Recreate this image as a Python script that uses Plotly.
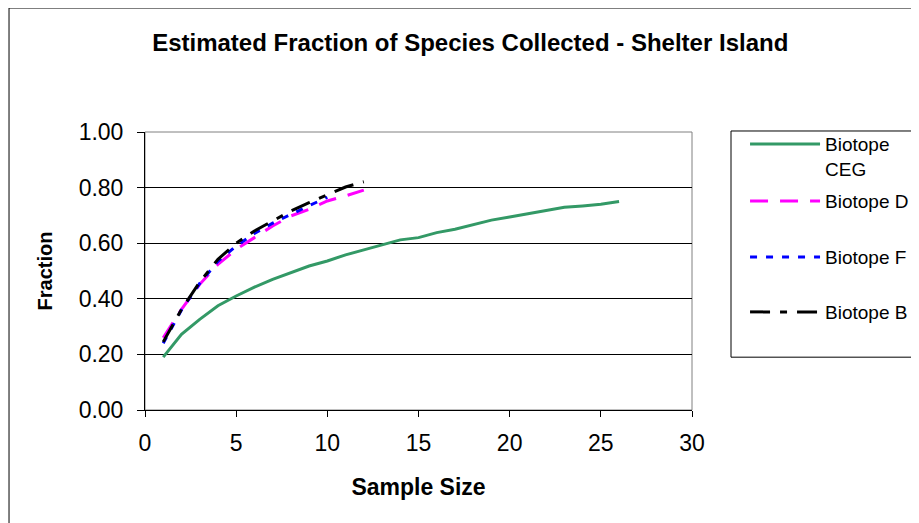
import plotly.graph_objects as go

# sample sizes
x_ceg = list(range(1, 27))
x_d = list(range(1, 13))
x_f = list(range(1, 11))
x_b = list(range(1, 13))

# estimated fraction of species collected
frac_ceg = [0.19, 0.272, 0.326, 0.375, 0.41, 0.442, 0.47, 0.493, 0.518, 0.536,
            0.558, 0.576, 0.594, 0.612, 0.620, 0.638, 0.650, 0.667, 0.683, 0.694,
            0.705, 0.718, 0.729, 0.734, 0.740, 0.750]
frac_d = [0.26, 0.362, 0.452, 0.524, 0.578, 0.62, 0.662, 0.698, 0.722, 0.752, 0.77, 0.791]
frac_f = [0.24, 0.36, 0.455, 0.535, 0.59, 0.635, 0.672, 0.705, 0.735, 0.765]
frac_b = [0.245, 0.362, 0.46, 0.542, 0.60, 0.644, 0.68, 0.716, 0.746, 0.773, 0.802, 0.821]

fig = go.Figure()
fig.add_trace(go.Scatter(x=x_ceg, y=frac_ceg, mode='lines', name='Biotope<br>CEG',
                         line=dict(color='#339966', width=3), legend='legend', showlegend=True))
fig.add_trace(go.Scatter(x=x_d, y=frac_d, mode='lines', name='Biotope D',
                         line=dict(color='#FF00FF', width=3, dash='18px,12px'), legend='legend2'))
fig.add_trace(go.Scatter(x=x_f, y=frac_f, mode='lines', name='Biotope F',
                         line=dict(color='#0000FF', width=3, dash='7px,9px'), legend='legend3'))
fig.add_trace(go.Scatter(x=x_b, y=frac_b, mode='lines', name='Biotope B',
                         line=dict(color='black', width=3, dash='20px,10px,7px,10px'), legend='legend4'))

leg = dict(xref='container', yref='container', x=0.802, xanchor='left', yanchor='top',
           font=dict(size=19), valign='top', bgcolor='rgba(0,0,0,0)', borderwidth=0, itemwidth=70)

fig.update_layout(
    width=919, height=523, showlegend=True,
    paper_bgcolor='white', plot_bgcolor='white',
    margin=dict(l=137, r=235, t=124, b=121),
    font=dict(family='Liberation Sans, Arial', size=23, color='black'),
    title=dict(text='<b>Estimated Fraction of Species Collected - Shelter Island</b>',
               xref='container', x=0.503, xanchor='center',
               yref='container', y=1 - 35 / 523, yanchor='middle',
               font=dict(size=24)),
    xaxis=dict(range=[0, 30], dtick=5, showgrid=False, zeroline=False,
               showline=True, linecolor='black', linewidth=1,
               ticks='outside', ticklen=6, tickcolor='black', ticklabelstandoff=6,
               title=dict(text='<b>Sample Size</b>', standoff=24, font=dict(size=23))),
    yaxis=dict(range=[0, 1], dtick=0.2, tickformat='.2f', showgrid=True,
               gridcolor='black', gridwidth=1, zeroline=False,
               showline=True, linecolor='black', linewidth=1,
               ticks='outside', ticklen=7, tickcolor='black', ticklabelstandoff=9,
               title=dict(text='<b>Fraction</b>', standoff=20, font=dict(size=20))),
    legend=dict(leg, y=0.776),
    legend2=dict(leg, y=0.667),
    legend3=dict(leg, y=0.560),
    legend4=dict(leg, y=0.455),
    shapes=[
        dict(type='rect', xref='paper', yref='paper', x0=0, x1=1, y0=0, y1=1,
             line=dict(color='#808080', width=1), layer='below'),
        dict(type='rect', xref='paper', yref='paper', x0=1.0713, x1=1.6, y0=0.19, y1=1.0036,
             line=dict(color='black', width=1)),
        dict(type='rect', xref='paper', yref='paper', x0=-0.2486, x1=2, y0=-1, y1=1.446,
             line=dict(color='black', width=1)),
    ],
)

fig.write_html('out.html')
